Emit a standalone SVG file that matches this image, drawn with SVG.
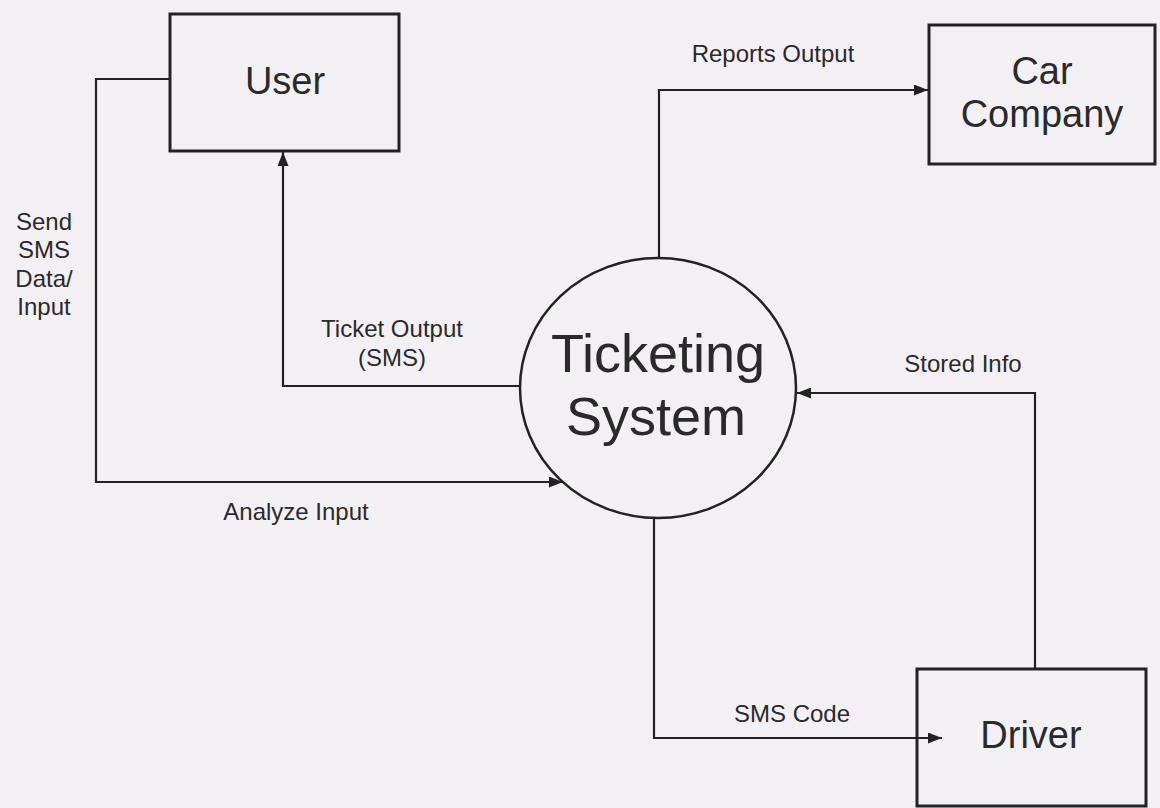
<svg xmlns="http://www.w3.org/2000/svg" width="1160" height="808" viewBox="0 0 1160 808">
<defs>
<marker id="arr" viewBox="0 0 14 11" refX="14" refY="5.5" markerWidth="14" markerHeight="11" markerUnits="userSpaceOnUse" orient="auto">
<path d="M0,0 L14,5.5 L0,11 z" fill="#222"/>
</marker>
<style>
.box{fill:none;stroke:#222;stroke-width:3}
.proc{fill:none;stroke:#222;stroke-width:2.5}
.flow{fill:none;stroke:#222;stroke-width:2.2;marker-end:url(#arr)}
.t{font-family:"Liberation Sans",Arial,sans-serif;fill:#2a2a2a;text-anchor:middle}
.big{font-size:38px}
.huge{font-size:54px}
.lbl{font-size:24px}
</style>
</defs>
<rect x="0" y="0" width="1160" height="808" fill="#f3f0f4"/>
<g id="connectors">
<path class="flow" d="M170 79 H96 V482 H563"/>
<path class="flow" d="M520 386 H283 V152"/>
<path class="flow" d="M659 258 V90 H928"/>
<path class="flow" d="M1035 669 V393 H797"/>
<path class="flow" d="M654 518 V738 H942"/>
<text class="t lbl" x="44" y="230">Send</text>
<text class="t lbl" x="44" y="258">SMS</text>
<text class="t lbl" x="44" y="287">Data/</text>
<text class="t lbl" x="44" y="315">Input</text>
<text class="t lbl" x="392" y="337">Ticket Output</text>
<text class="t lbl" x="392" y="366">(SMS)</text>
<text class="t lbl" x="296" y="520">Analyze Input</text>
<text class="t lbl" x="773" y="62">Reports Output</text>
<text class="t lbl" x="963" y="372">Stored Info</text>
<text class="t lbl" x="792" y="722">SMS Code</text>
</g>
<g id="user">
<rect class="box" x="170" y="14" width="229" height="137"/>
<text class="t big" x="285" y="94">User</text>
</g>
<g id="car-company">
<rect class="box" x="929" y="25" width="226" height="139"/>
<text class="t big" x="1042" y="84">Car</text>
<text class="t big" x="1042" y="127">Company</text>
</g>
<g id="driver">
<rect class="box" x="917" y="669" width="229" height="137"/>
<text class="t big" x="1031" y="748">Driver</text>
</g>
<g id="ticketing-system">
<ellipse class="proc" cx="658" cy="388" rx="138" ry="130"/>
<text class="t huge" x="658" y="372">Ticketing</text>
<text class="t huge" x="656" y="435">System</text>
</g>
</svg>
